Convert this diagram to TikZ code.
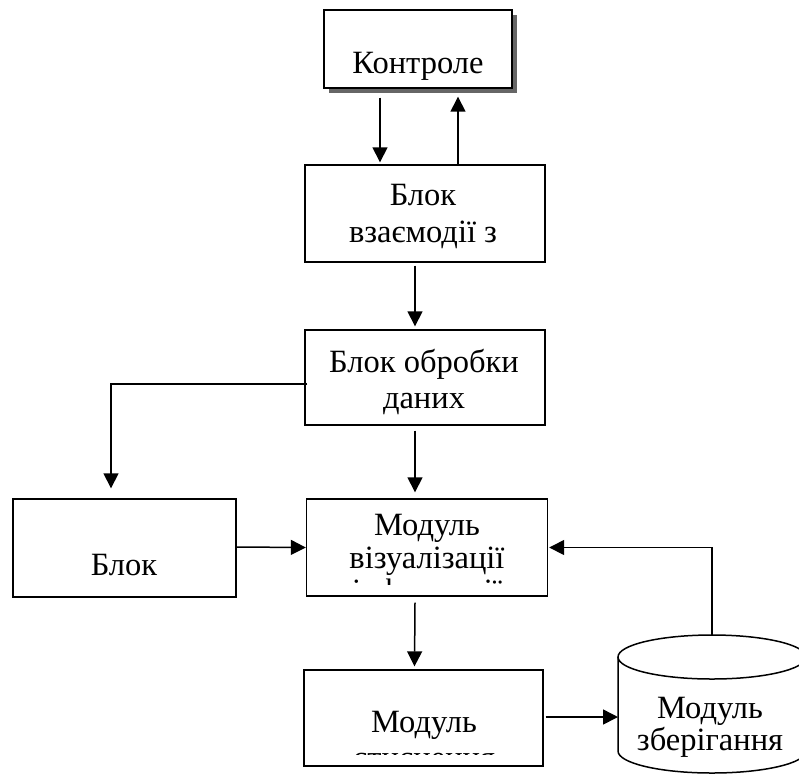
\documentclass[tikz,border=0pt]{standalone}
\usepackage{fontspec}
\setmainfont{Liberation Serif}
\usetikzlibrary{arrows.meta}
\begin{document}
\begin{tikzpicture}[x=1pt,y=-1pt,
  box/.style={draw,line width=1.4pt,fill=white,inner sep=0pt},
  txt/.style={font=\fontsize{32.5}{36}\selectfont,anchor=base,inner sep=0pt},
  arr/.style={line width=1.5pt,-{Triangle[length=15pt,width=15pt]}},
  wire/.style={line width=1.5pt}]
\useasboundingbox (0,0) rectangle (799,774);
\fill[white] (0,0) rectangle (799,774);
% Контроле with shadow
\fill[black!60] (329,15) rectangle (517,93);
\node[box,minimum width=188pt,minimum height=78pt] (ctl) at (418,49) {};
\node[txt] (ctlt) at (418,73) {Контроле};
% Блок взаємодії з
\node[box,minimum width=240pt,minimum height=97pt] (int) at (425,213.5) {};
\node[txt] (int1) at (423,205) {Блок};
\node[txt] (int2) at (423,242) {взаємодії з};
% Блок обробки даних
\node[box,minimum width=240pt,minimum height=95pt] (proc) at (425,377.5) {};
\node[txt] (proc1) at (424,372) {Блок обробки};
\node[txt] (proc2) at (424,408) {даних};
% Блок (left)
\node[box,minimum width=223pt,minimum height=98pt] (blok) at (124.5,548) {};
\node[txt] (blokt) at (124,575) {Блок};
% Модуль візуалізації
\node[box,minimum width=241pt,minimum height=97pt] (vis) at (427,547.5) {};
\node[txt] (vis1) at (427,535) {Модуль};
\node[txt] (vis2) at (427,568) {візуалізації};
\begin{scope}
  \clip (300,560) rectangle (560,584.5);
  \node[txt] (vis3) at (427,601) {інформації};
\end{scope}
% Модуль стиснення
\node[box,minimum width=239pt,minimum height=96pt] (bot) at (423.5,718) {};
\node[txt] (bot1) at (424,732) {Модуль};
\begin{scope}
  \clip (300,740) rectangle (550,754.5);
  \node[txt] (bot2) at (424,768) {стиснення};
\end{scope}
% Модуль зберігання (cylinder)
\fill[white] (618,657) -- (618,751) arc[start angle=180,end angle=360,x radius=94pt,y radius=22pt] -- (806,657) -- cycle;
\fill[white] (712,657) ellipse [x radius=94, y radius=22];
\draw[wire] (618,657) -- (618,751) arc[start angle=180,end angle=360,x radius=94pt,y radius=22pt] -- (806,657);
\draw[wire] (712,657) ellipse [x radius=94, y radius=22];
\coordinate (cyltop) at (712,635);
\coordinate (cylw) at (618,717);
\node[txt] (cyl1) at (710,718) {Модуль};
\node[txt] (cyl2) at (710,750) {зберігання};
% connectors
\draw[arr] ([xshift=-38pt,yshift=-9pt]ctl.south) -- ([xshift=-45pt,yshift=2pt]int.north);
\draw[arr] ([xshift=33pt]int.north) -- ([xshift=40pt,yshift=-8pt]ctl.south);
\draw[arr] ([xshift=-10pt,yshift=-3pt]int.south) -- ([xshift=-10pt,yshift=3pt]proc.north);
\draw[arr] ([xshift=-10pt,yshift=-5pt]proc.south) -- ([xshift=-12pt,yshift=6pt]vis.north);
\draw[arr] ([xshift=3pt,yshift=-6.5pt]proc.west) -| ([xshift=-13.5pt,yshift=10pt]blok.north);
\draw[arr] ([yshift=1pt]blok.east) -- (vis.west);
\draw[arr] (cyltop) |- ([xshift=1pt]vis.east);
\draw[arr] ([xshift=-12pt,yshift=-6pt]vis.south) -- ([xshift=-9pt,yshift=3pt]bot.north);
\draw[arr] ([xshift=2pt,yshift=1pt]bot.east) -- (cylw);
\end{tikzpicture}
\end{document}
